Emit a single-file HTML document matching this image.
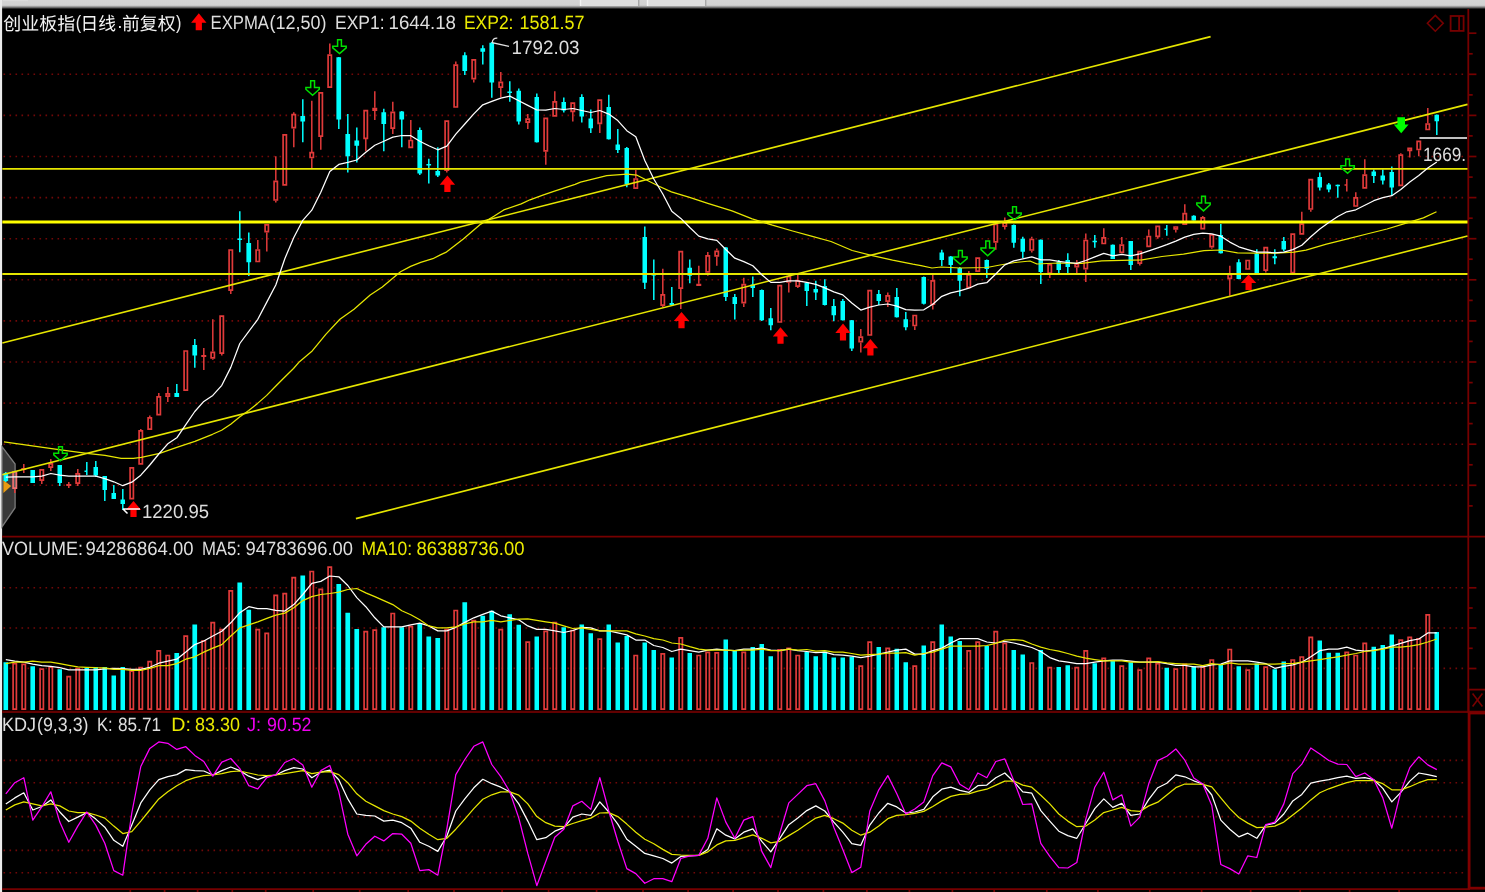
<!DOCTYPE html>
<html><head><meta charset="utf-8"><title>创业板指(日线.前复权) EXPMA VOLUME KDJ</title>
<style>html,body{margin:0;padding:0;background:#000;width:1485px;height:892px;overflow:hidden;font-family:"Liberation Sans",sans-serif}</style>
</head><body>
<svg width="1485" height="892" viewBox="0 0 1485 892" style="display:block;position:absolute;left:0;top:0;filter:blur(0.35px)" font-family="Liberation Sans, sans-serif" font-size="19.2" text-rendering="geometricPrecision">
<defs><linearGradient id="tb" x1="0" y1="0" x2="0" y2="1"><stop offset="0" stop-color="#d4d4d4"/><stop offset="0.55" stop-color="#d2d2d2"/><stop offset="0.75" stop-color="#808080"/><stop offset="0.95" stop-color="#000"/></linearGradient></defs>
<rect width="1485" height="892" fill="#000"/>
<rect x="0" y="0" width="1485" height="9.6" fill="url(#tb)"/>
<rect x="3" y="0" width="25" height="1.2" fill="#dcdcdc"/>
<rect x="581" y="0" width="57.5" height="6" fill="#dfdfdf"/><rect x="579.8" y="0" width="1.4" height="6" fill="#f4f4f4"/><rect x="638" y="0" width="1.4" height="6" fill="#a8a8a8"/>
<rect x="648" y="0" width="57.5" height="6" fill="#dfdfdf"/><rect x="646.8" y="0" width="1.4" height="6" fill="#f4f4f4"/><rect x="705" y="0" width="1.4" height="6" fill="#a8a8a8"/>
<rect x="0" y="0" width="2.1" height="892" fill="#ebebeb"/>
<line x1="3.5" y1="74.3" x2="1466" y2="74.3" stroke="#720808" stroke-width="1.6" stroke-dasharray="1.6 4.4"/>
<line x1="3.5" y1="115.4" x2="1466" y2="115.4" stroke="#720808" stroke-width="1.6" stroke-dasharray="1.6 4.4"/>
<line x1="3.5" y1="156.5" x2="1466" y2="156.5" stroke="#720808" stroke-width="1.6" stroke-dasharray="1.6 4.4"/>
<line x1="3.5" y1="197.6" x2="1466" y2="197.6" stroke="#720808" stroke-width="1.6" stroke-dasharray="1.6 4.4"/>
<line x1="3.5" y1="238.7" x2="1466" y2="238.7" stroke="#720808" stroke-width="1.6" stroke-dasharray="1.6 4.4"/>
<line x1="3.5" y1="279.8" x2="1466" y2="279.8" stroke="#720808" stroke-width="1.6" stroke-dasharray="1.6 4.4"/>
<line x1="3.5" y1="320.9" x2="1466" y2="320.9" stroke="#720808" stroke-width="1.6" stroke-dasharray="1.6 4.4"/>
<line x1="3.5" y1="362" x2="1466" y2="362" stroke="#720808" stroke-width="1.6" stroke-dasharray="1.6 4.4"/>
<line x1="3.5" y1="403.1" x2="1466" y2="403.1" stroke="#720808" stroke-width="1.6" stroke-dasharray="1.6 4.4"/>
<line x1="3.5" y1="444.2" x2="1466" y2="444.2" stroke="#720808" stroke-width="1.6" stroke-dasharray="1.6 4.4"/>
<line x1="3.5" y1="485.3" x2="1466" y2="485.3" stroke="#720808" stroke-width="1.6" stroke-dasharray="1.6 4.4"/>
<line x1="3.5" y1="587.7" x2="1466" y2="587.7" stroke="#720808" stroke-width="1.6" stroke-dasharray="1.6 4.4"/>
<line x1="3.5" y1="628" x2="1466" y2="628" stroke="#720808" stroke-width="1.6" stroke-dasharray="1.6 4.4"/>
<line x1="3.5" y1="668.4" x2="1466" y2="668.4" stroke="#720808" stroke-width="1.6" stroke-dasharray="1.6 4.4"/>
<line x1="3.5" y1="760.4" x2="1466" y2="760.4" stroke="#720808" stroke-width="1.6" stroke-dasharray="1.6 4.4"/>
<line x1="3.5" y1="782.7" x2="1466" y2="782.7" stroke="#720808" stroke-width="1.6" stroke-dasharray="1.6 4.4"/>
<line x1="3.5" y1="816.6" x2="1466" y2="816.6" stroke="#720808" stroke-width="1.6" stroke-dasharray="1.6 4.4"/>
<line x1="3.5" y1="850.4" x2="1466" y2="850.4" stroke="#720808" stroke-width="1.6" stroke-dasharray="1.6 4.4"/>
<line x1="3.5" y1="872.7" x2="1466" y2="872.7" stroke="#720808" stroke-width="1.6" stroke-dasharray="1.6 4.4"/>
<g stroke="#760000" stroke-width="1.8" fill="none">
<line x1="2" y1="536.6" x2="1485" y2="536.6"/>
<line x1="2" y1="711.9" x2="1468" y2="711.9" stroke="#620000" stroke-width="2.1"/><line x1="1468" y1="712.4" x2="1485" y2="712.4" stroke-width="2.2"/>
<line x1="2" y1="889.2" x2="1470" y2="889.2"/>
<line x1="1468.3" y1="9" x2="1468.3" y2="712"/>
<rect x="1469.1" y="713" width="20" height="175.2" stroke-width="2.8" stroke="#800000"/>
<rect x="1468.6" y="689.6" width="20" height="22"/>
</g>
<g stroke="#760000" stroke-width="1.7">
<line x1="1469" y1="33.2" x2="1476.4" y2="33.2"/>
<line x1="1469" y1="53.8" x2="1472.7" y2="53.8"/>
<line x1="1469" y1="74.3" x2="1476.4" y2="74.3"/>
<line x1="1469" y1="94.9" x2="1472.7" y2="94.9"/>
<line x1="1469" y1="115.4" x2="1476.4" y2="115.4"/>
<line x1="1469" y1="135.9" x2="1472.7" y2="135.9"/>
<line x1="1469" y1="156.5" x2="1476.4" y2="156.5"/>
<line x1="1469" y1="177.1" x2="1472.7" y2="177.1"/>
<line x1="1469" y1="197.6" x2="1476.4" y2="197.6"/>
<line x1="1469" y1="218.2" x2="1472.7" y2="218.2"/>
<line x1="1469" y1="238.7" x2="1476.4" y2="238.7"/>
<line x1="1469" y1="259.2" x2="1472.7" y2="259.2"/>
<line x1="1469" y1="279.8" x2="1476.4" y2="279.8"/>
<line x1="1469" y1="300.4" x2="1472.7" y2="300.4"/>
<line x1="1469" y1="320.9" x2="1476.4" y2="320.9"/>
<line x1="1469" y1="341.4" x2="1472.7" y2="341.4"/>
<line x1="1469" y1="362" x2="1476.4" y2="362"/>
<line x1="1469" y1="382.6" x2="1472.7" y2="382.6"/>
<line x1="1469" y1="403.1" x2="1476.4" y2="403.1"/>
<line x1="1469" y1="423.6" x2="1472.7" y2="423.6"/>
<line x1="1469" y1="444.2" x2="1476.4" y2="444.2"/>
<line x1="1469" y1="464.8" x2="1472.7" y2="464.8"/>
<line x1="1469" y1="485.3" x2="1476.4" y2="485.3"/>
<line x1="1469" y1="505.9" x2="1472.7" y2="505.9"/>
<line x1="1469" y1="587.8" x2="1476.4" y2="587.8"/>
<line x1="1469" y1="608" x2="1472.7" y2="608"/>
<line x1="1469" y1="628" x2="1476.4" y2="628"/>
<line x1="1469" y1="648.3" x2="1472.7" y2="648.3"/>
<line x1="1469" y1="668.5" x2="1476.4" y2="668.5"/>
<line x1="130.3" y1="889" x2="130.3" y2="892"/>
<line x1="164.6" y1="889" x2="164.6" y2="892"/>
<line x1="197.6" y1="889" x2="197.6" y2="892"/>
<line x1="232.3" y1="889" x2="232.3" y2="892"/>
<line x1="265.7" y1="889" x2="265.7" y2="892"/>
<line x1="313.2" y1="889" x2="313.2" y2="892"/>
<line x1="359.7" y1="889" x2="359.7" y2="892"/>
<line x1="408.2" y1="889" x2="408.2" y2="892"/>
<line x1="454" y1="889" x2="454" y2="892"/>
<line x1="502.1" y1="889" x2="502.1" y2="892"/>
<line x1="548.6" y1="889" x2="548.6" y2="892"/>
<line x1="596.6" y1="889" x2="596.6" y2="892"/>
<line x1="643" y1="889" x2="643" y2="892"/>
<line x1="688.1" y1="889" x2="688.1" y2="892"/>
<line x1="733.1" y1="889" x2="733.1" y2="892"/>
<line x1="778" y1="889" x2="778" y2="892"/>
<line x1="823.4" y1="889" x2="823.4" y2="892"/>
<line x1="866.9" y1="889" x2="866.9" y2="892"/>
<line x1="909.4" y1="889" x2="909.4" y2="892"/>
<line x1="952.4" y1="889" x2="952.4" y2="892"/>
<line x1="994.2" y1="889" x2="994.2" y2="892"/>
<line x1="1046.8" y1="889" x2="1046.8" y2="892"/>
<line x1="1097.9" y1="889" x2="1097.9" y2="892"/>
<line x1="1149.8" y1="889" x2="1149.8" y2="892"/>
<line x1="1201.6" y1="889" x2="1201.6" y2="892"/>
<line x1="1250.7" y1="889" x2="1250.7" y2="892"/>
<line x1="1300.2" y1="889" x2="1300.2" y2="892"/>
<line x1="1349.6" y1="889" x2="1349.6" y2="892"/>
<line x1="1399.1" y1="889" x2="1399.1" y2="892"/>
</g>
<path d="M1472.6 693.6 L1482.4 706.4 M1482.4 693.6 L1472.6 706.4" stroke="#760000" stroke-width="1.6" fill="none"/>
<path d="M1435.3 15.4 L1443.2 23.3 L1435.3 31.2 L1427.4 23.3 Z" stroke="#760000" stroke-width="1.6" fill="none"/>
<rect x="1450.6" y="16" width="13" height="14.9" stroke="#760000" stroke-width="1.8" fill="none"/><line x1="1459.1" y1="16" x2="1459.1" y2="31" stroke="#760000" stroke-width="1.8"/>
<path d="M2 446.6 L15.1 464 V507.7 L2 526.8 Z" fill="#383838" stroke="#7a7a7a" stroke-width="1.3"/>
<path d="M3.4 480.3 L11.2 486 L3.4 493 Z" fill="#e89a10"/>
<path d="M14.8 489V493M23.8 464V468M23.8 470V473M41.8 481V484M50.8 459V463M50.8 468V471M68.8 482V484M68.8 486V488M77.8 469V473M77.8 484V486M140.8 429V430M149.8 415.5V417M158.8 393V396M167.8 387V393M167.8 397V402M203.8 348V355M203.8 357V370M212.8 319.3V351.6M212.8 358.7V359.7M221.8 354V355.6M230.8 291V294M257.8 240.1V249.2M266.8 232.4V251.6M275.8 156.3V180.6M275.8 200.8V202.4M293.8 112.3V113.9M293.8 128.4V147.2M311.8 100.8V151.9M311.8 158.3V168.8M320.8 137V149.8M329.8 43.6V54.3M365.8 139.1V151.3M374.8 91.3V107.8M374.8 110.9V120M392.8 101.8V111.5M392.8 129V134M410.8 120V139.7M446.8 170.9V172.5M455.8 61.4V64.4M473.8 79.5V82.6M500.8 71.9V81.6M500.8 88V97.3M527.8 113.9V118.3M527.8 123V129M545.8 151.6V164.7M554.8 91.3V101M572.8 112.1V121.6M599.8 124.2V133.1M635.8 170.1V178.2M662.8 268.7V294M662.8 306V307M680.8 288.9V309.1M698.8 265.7V283.8M707.8 252.1V255M707.8 272.7V275.8M716.8 248.5V250.5M716.8 256.6V265.7M743.8 277.8V283.8M743.8 303.4V307.1M788.8 274.5V275.8M788.8 282.8V292.5M797.8 274.7V280.4M797.8 286.9V288M860.8 328.9V336.4M860.8 342.4V352.5M887.8 292.5V295M887.8 302V307.1M914.8 326.3V329.9M932.8 274V280.1M932.8 305V309.4M968.8 271V274M995.8 242.7V249.8M1004.8 217.5V222.1M1004.8 227V229.6M1031.8 236.7V238.7M1031.8 250.8V252.4M1049.8 274V278.1M1076.8 259.9V263.3M1076.8 267.4V273M1085.8 233.6V239.7M1085.8 269.4V282.1M1103.8 228.2V237.1M1121.8 237.1V244.3M1139.8 263.9V265.4M1148.8 229.6V235.7M1157.8 237.1V238.7M1175.8 229.6V232.6M1184.8 204.3V212.8M1202.8 215.9V217.1M1211.8 247.5V248.8M1229.8 265.8V273.8M1229.8 279.1V295.7M1265.8 271V272.4M1301.8 211.8V223.3M1310.8 209.8V211.8M1346.8 178.9V191.6M1344.5 185H1347.5M1355.8 192.2V197.1M1364.8 159.3V174.4M1400.8 153.2V154.4M1409.8 151.1V157.4M1418.8 150.3V156.2M1427.8 108.1V123.2" stroke="#e03a3a" stroke-width="1.5" fill="none"/>
<path d="M22.1 468.8H25.4V469.2H22.1ZM40.1 469.8H43.4V480.2H40.1ZM49.1 463.8H52.4V467.2H49.1ZM67.1 484.8H70.4V485.2H67.1ZM76.1 473.8H79.4V483.2H76.1ZM130.1 467.8H133.4V498.7H130.1ZM139.1 430.8H142.4V463.8H139.1ZM148.1 417.8H151.4V429.2H148.1ZM157.1 396.8H160.4V414.7H157.1ZM166.1 393.8H169.4V396.2H166.1ZM184.1 351H187.4V390.2H184.1ZM202.1 355.8H205.4V356.2H202.1ZM211.1 352.4H214.4V357.9H211.1ZM220.1 316.1H223.4V353.2H220.1ZM229.1 250H232.4V290.2H229.1ZM256.1 250H259.4V261.5H256.1ZM265.1 224.8H268.4V231.6H265.1ZM274.1 181.4H277.4V200H274.1ZM283.1 134.9H286.4V184.8H283.1ZM292.1 114.7H295.4V127.6H292.1ZM310.1 152.7H313.4V157.5H310.1ZM319.1 92.8H322.4V136.2H319.1ZM328.1 55.1H331.4V87.2H328.1ZM364.1 110.6H367.4V138.3H364.1ZM373.1 108.6H376.4V110.1H373.1ZM391.1 112.3H394.4V128.2H391.1ZM409.1 140.5H412.4V147.4H409.1ZM445.1 121.2H448.4V170.1H445.1ZM454.1 65.2H457.4V107H454.1ZM472.1 59.8H475.4V78.7H472.1ZM499.1 82.4H502.4V87.2H499.1ZM526.1 119.1H529.4V122.2H526.1ZM544.1 118.3H547.4V150.8H544.1ZM553.1 101.8H556.4V115.8H553.1ZM571.1 103.2H574.4V111.3H571.1ZM598.1 100.2H601.4V123.4H598.1ZM634.1 179H637.4V188.1H634.1ZM661.1 294.8H664.4V305.2H661.1ZM679.1 251.7H682.4V288.1H679.1ZM697.1 284.6H700.4V285.1H697.1ZM706.1 255.8H709.4V271.9H706.1ZM715.1 251.3H718.4V255.8H715.1ZM742.1 284.6H745.4V302.6H742.1ZM778.1 285.6H781.4V322H778.1ZM787.1 276.6H790.4V282H787.1ZM796.1 281.2H799.4V286.1H796.1ZM859.1 337.2H862.4V341.6H859.1ZM868.1 290.7H871.4V335H868.1ZM886.1 295.8H889.4V301.2H886.1ZM913.1 315.5H916.4V325.5H913.1ZM931.1 280.9H934.4V304.2H931.1ZM967.1 274.8H970.4V287.4H967.1ZM976.1 258.1H979.4V271.2H976.1ZM994.1 224.3H997.4V241.9H994.1ZM1003.1 222.9H1006.4V226.2H1003.1ZM1030.1 239.5H1033.4V250H1030.1ZM1048.1 264.7H1051.4V273.2H1048.1ZM1075.1 264.1H1078.4V266.6H1075.1ZM1084.1 240.5H1087.4V268.6H1084.1ZM1102.1 237.9H1105.4V243.5H1102.1ZM1120.1 245.1H1123.4V252.4H1120.1ZM1138.1 251.6H1141.4V263.1H1138.1ZM1147.1 236.5H1150.4V246.4H1147.1ZM1156.1 226.4H1159.4V236.3H1156.1ZM1174.1 227H1177.4V228.8H1174.1ZM1183.1 213.6H1186.4V224.2H1183.1ZM1201.1 217.9H1204.4V228.7H1201.1ZM1210.1 234.9H1213.4V246.7H1210.1ZM1228.1 274.6H1231.4V278.3H1228.1ZM1246.1 260.5H1249.4V269H1246.1ZM1264.1 247.6H1267.4V270.2H1264.1ZM1291.1 234.2H1294.4V272.6H1291.1ZM1300.1 224.1H1303.4V233.8H1300.1ZM1309.1 179.7H1312.4V209H1309.1ZM1354.1 197.9H1357.4V206H1354.1ZM1363.1 175.2H1366.4V187.8H1363.1ZM1399.1 155.2H1402.4V185.4H1399.1ZM1408.1 148.4H1411.4V150.3H1408.1ZM1417.1 141.3H1420.4V149.5H1417.1ZM1426.1 124H1429.4V129.5H1426.1Z" stroke="#e03a3a" stroke-width="1.7" fill="#000"/>
<path d="M13.1 471.8H16.4V488.2H13.1Z" stroke="#f07070" stroke-width="1.7" fill="none"/>
<path d="M5.8 472V482M32.8 470V483M59.8 465V486M86.8 462V475M84.5 471.2H87.5M95.8 461V477M104.8 476V501M113.8 485V499M122.8 489V510M176.8 384V397M194.8 339V367.8M239.8 211.2V252.2M237.4 239.2H242.1M248.8 232.4V275.9M302.8 99.3V142.2M338.8 57V129M347.8 113.9V172.5M356.8 127.6V162.4M383.8 108.8V151.3M401.8 111V147.2M419.8 127.6V175M428.8 158.7V183.6M426.4 164.8H431.1M437.8 147.2V177M464.8 52.3V75.1M482.8 45.2V64.4M491.8 42V97.7M509.8 81.2V101.8M507.4 92.2H512M518.8 88.6V124.4M536.8 93.5V142.5M563.8 97.4V112.5M581.8 94.3V122.6M590.8 109.5V133.1M608.8 94.7V139.5M617.8 129.1V152.9M626.8 147V187.3M644.8 226.5V288.9M653.8 259.6V300M651.5 274.8H656M671.8 286.9V305M689.8 259.6V283.2M725.8 247V301M734.8 293.9V319.6M752.8 276.4V297M761.8 289.5V321M770.8 308.1V330.3M806.8 282.5V306.1M815.8 280.8V300M824.8 279.2V305.5M833.8 299V321.2M842.8 299V320.5M851.8 320V351.1M878.8 289.9V305M896.8 287.9V317.5M905.8 312.1V330.3M923.8 276.5V304.5M941.8 249.8V266M950.8 256V273.4M959.8 267V296.3M986.8 259.5V278.1M1013.8 224.5V247.8M1022.8 236.7V257.9M1040.8 239.5V284.1M1058.8 259.9V273M1067.8 253.2V273M1094.8 235V247.8M1112.8 244.5V259M1130.8 241V270M1166.8 225V235.7M1164.5 229.2H1167.5M1193.8 215.2V220.6M1220.8 223.9V253.5M1238.8 259.3V279.3M1256.8 249.2V273.6M1274.8 249.2V264.3M1283.8 237.1V251.2M1319.8 172.4V190.6M1328.8 182.9V192.2M1337.8 184.5V197.7M1335.5 185.6H1340M1373.8 169.4V182.9M1382.8 169.4V184.5M1391.8 166.4V195.1M1436.8 114.5V135" stroke="#00ffff" stroke-width="1.5" fill="none"/>
<path d="M3.5 473H8.1V481H3.5ZM30.4 470H35V483H30.4ZM57.5 465H62V483H57.5ZM93.5 467H98V475.5H93.5ZM102.5 476H107V490H102.5ZM111.5 493H116V499H111.5ZM120.5 499.5H125V504H120.5ZM174.4 393H179.1V397H174.4ZM192.4 345H197.1V355.6H192.4ZM246.4 243H251.1V262.3H246.4ZM300.4 115.9H305.1V121.6H300.4ZM336.4 57.3H341.1V119.5H336.4ZM345.4 134H350.1V156.3H345.4ZM354.4 140.5H359.1V145.8H354.4ZM381.4 112.3H386.1V124H381.4ZM399.4 111.5H404.1V119.5H399.4ZM417.4 130H422.1V173.5H417.4ZM435.4 170.9H440.1V175.5H435.4ZM462.4 55.3H467.1V71H462.4ZM480.4 48.2H485.1V51.7H480.4ZM489.4 42.8H494.1V82.6H489.4ZM516.5 90.7H521V121.6H516.5ZM534.5 97H539V142.3H534.5ZM561.5 102H566V110.5H561.5ZM579.5 97H584V116.6H579.5ZM588.5 118.6H593V128.3H588.5ZM606.5 106.9H611V139.2H606.5ZM615.5 144.4H620V149.9H615.5ZM624.5 147.9H629V184.2H624.5ZM642.5 237H647V282.8H642.5ZM669.5 303H674V305H669.5ZM687.5 267.7H692V275.8H687.5ZM723.5 247.5H728V297H723.5ZM732.5 297H737V304H732.5ZM750.5 284.4H755V287.9H750.5ZM759.5 289.9H764V320.2H759.5ZM768.5 318.2H773V325.3H768.5ZM804.5 282.8H809V290.9H804.5ZM813.5 288.9H818V292.5H813.5ZM822.5 285.9H827V305H822.5ZM831.5 306H836V315.2H831.5ZM840.5 301H845V320.2H840.5ZM849.5 320.2H854V348.5H849.5ZM876.5 293.9H881V301H876.5ZM894.5 297H899V317.2H894.5ZM903.5 319.2H908V327.3H903.5ZM921.5 276.9H926V303.8H921.5ZM939.5 252.4H944V259.9H939.5ZM948.5 256.5H953V265H948.5ZM957.5 268H962V280.7H957.5ZM984.5 259.9H989V269H984.5ZM1011.5 225H1016V242.7H1011.5ZM1020.5 238.7H1025V251.8H1020.5ZM1038.5 239.7H1043V272H1038.5ZM1056.5 261.9H1061V270H1056.5ZM1065.5 259.9H1070V267H1065.5ZM1092.5 240.7H1097V242.3H1092.5ZM1110.5 244.7H1115V258.9H1110.5ZM1128.5 241.1H1133V264.9H1128.5ZM1191.5 215.7H1196V220.4H1191.5ZM1218.5 235H1223V253.2H1218.5ZM1236.5 262.3H1241V279.1H1236.5ZM1254.5 253.6H1259V273.4H1254.5ZM1272.5 256.3H1277V258.3H1272.5ZM1281.5 241.1H1286V249.6H1281.5ZM1317.5 176.9H1322V187.6H1317.5ZM1326.5 184.5H1331V189.6H1326.5ZM1371.5 171.4H1376V176.1H1371.5ZM1380.5 175.5H1385V180.5H1380.5ZM1389.5 172H1394V187.6H1389.5ZM1434.5 114.7H1439V121.2H1434.5Z" fill="#00ffff"/>
<path d="M13.1 663.6H16.4V709.2H13.1ZM22.1 664.4H25.4V709.2H22.1ZM40.1 669.1H43.4V709.2H40.1ZM49.1 667.1H52.4V709.2H49.1ZM67.1 676.6H70.4V709.2H67.1ZM76.1 668.5H79.4V709.2H76.1ZM130.1 671.1H133.4V709.2H130.1ZM139.1 667.7H142.4V709.2H139.1ZM148.1 661.6H151.4V709.2H148.1ZM157.1 650.9H160.4V709.2H157.1ZM166.1 655.5H169.4V709.2H166.1ZM184.1 636.2H187.4V709.2H184.1ZM202.1 640.8H205.4V709.2H202.1ZM211.1 622.6H214.4V709.2H211.1ZM220.1 629.7H223.4V709.2H220.1ZM229.1 590.9H232.4V709.2H229.1ZM256.1 629.7H259.4V709.2H256.1ZM265.1 633.3H268.4V709.2H265.1ZM274.1 595.3H277.4V709.2H274.1ZM283.1 593.7H286.4V709.2H283.1ZM292.1 577.6H295.4V709.2H292.1ZM310.1 571.5H313.4V709.2H310.1ZM319.1 589.3H322.4V709.2H319.1ZM328.1 567.1H331.4V709.2H328.1ZM364.1 631.7H367.4V709.2H364.1ZM373.1 630.1H376.4V709.2H373.1ZM391.1 613.5H394.4V709.2H391.1ZM409.1 626.7H412.4V709.2H409.1ZM445.1 629.7H448.4V709.2H445.1ZM454.1 610.5H457.4V709.2H454.1ZM472.1 620.6H475.4V709.2H472.1ZM499.1 629.7H502.4V709.2H499.1ZM526.1 642.2H529.4V709.2H526.1ZM544.1 631.3H547.4V709.2H544.1ZM553.1 622.6H556.4V709.2H553.1ZM571.1 630.7H574.4V709.2H571.1ZM598.1 639.2H601.4V709.2H598.1ZM634.1 655.5H637.4V709.2H634.1ZM661.1 653.9H664.4V709.2H661.1ZM679.1 637.8H682.4V709.2H679.1ZM697.1 655.5H700.4V709.2H697.1ZM706.1 652.3H709.4V709.2H706.1ZM715.1 652.9H718.4V709.2H715.1ZM742.1 652.3H745.4V709.2H742.1ZM778.1 649.9H781.4V709.2H778.1ZM787.1 648.3H790.4V709.2H787.1ZM796.1 655.5H799.4V709.2H796.1ZM859.1 666.1H862.4V709.2H859.1ZM868.1 642.2H871.4V709.2H868.1ZM886.1 648.3H889.4V709.2H886.1ZM913.1 666.1H916.4V709.2H913.1ZM931.1 642.2H934.4V709.2H931.1ZM967.1 650.9H970.4V709.2H967.1ZM976.1 642.2H979.4V709.2H976.1ZM994.1 631.7H997.4V709.2H994.1ZM1003.1 643.4H1006.4V709.2H1003.1ZM1030.1 663H1033.4V709.2H1030.1ZM1048.1 667.7H1051.4V709.2H1048.1ZM1075.1 667.7H1078.4V709.2H1075.1ZM1084.1 650.9H1087.4V709.2H1084.1ZM1102.1 658.4H1105.4V709.2H1102.1ZM1120.1 666.1H1123.4V709.2H1120.1ZM1138.1 670.1H1141.4V709.2H1138.1ZM1147.1 658.4H1150.4V709.2H1147.1ZM1156.1 663.6H1159.4V709.2H1156.1ZM1174.1 669.1H1177.4V709.2H1174.1ZM1183.1 664.4H1186.4V709.2H1183.1ZM1201.1 667.1H1204.4V709.2H1201.1ZM1210.1 660H1213.4V709.2H1210.1ZM1228.1 649.5H1231.4V709.2H1228.1ZM1246.1 670.1H1249.4V709.2H1246.1ZM1264.1 667.1H1267.4V709.2H1264.1ZM1291.1 660H1294.4V709.2H1291.1ZM1300.1 657H1303.4V709.2H1300.1ZM1309.1 637.4H1312.4V709.2H1309.1ZM1345.1 652.3H1348.4V709.2H1345.1ZM1354.1 655.5H1357.4V709.2H1354.1ZM1363.1 643.4H1366.4V709.2H1363.1ZM1399.1 640.2H1402.4V709.2H1399.1ZM1408.1 637.4H1411.4V709.2H1408.1ZM1417.1 638.8H1420.4V709.2H1417.1ZM1426.1 614.9H1429.4V709.2H1426.1Z" stroke="#e03a3a" stroke-width="1.7" fill="none"/>
<path d="M3.5 662.2H8.1V710H3.5ZM30.4 666.3H35V710H30.4ZM57.5 669.3H62V710H57.5ZM84.5 667.7H89V710H84.5ZM93.5 666.9H98V710H93.5ZM102.5 666.9H107V710H102.5ZM111.5 675.4H116V710H111.5ZM120.5 666.9H125V710H120.5ZM174.4 653.1H179.1V710H174.4ZM192.4 624.4H197.1V710H192.4ZM237.4 582.4H242.1V710H237.4ZM246.4 609.7H251.1V710H246.4ZM300.4 575.4H305.1V710H300.4ZM336.4 584H341.1V710H336.4ZM345.4 612.7H350.1V710H345.4ZM354.4 628.9H359.1V710H354.4ZM381.4 627.3H386.1V710H381.4ZM399.4 627.3H404.1V710H399.4ZM417.4 623.8H422.1V710H417.4ZM426.4 636.6H431.1V710H426.4ZM435.4 638H440.1V710H435.4ZM462.4 602.2H467.1V710H462.4ZM480.4 615.8H485.1V710H480.4ZM489.4 610.7H494.1V710H489.4ZM507.4 614.3H512V710H507.4ZM516.5 624.8H521V710H516.5ZM534.5 636.6H539V710H534.5ZM561.5 627.3H566V710H561.5ZM579.5 624.4H584V710H579.5ZM588.5 633.3H593V710H588.5ZM606.5 624.4H611V710H606.5ZM615.5 642.6H620V710H615.5ZM624.5 636H629V710H624.5ZM642.5 642.6H647V710H642.5ZM651.5 650.1H656V710H651.5ZM669.5 657.6H674V710H669.5ZM687.5 653.1H692V710H687.5ZM723.5 639.4H728V710H723.5ZM732.5 651.1H737V710H732.5ZM750.5 647.1H755V710H750.5ZM759.5 644H764V710H759.5ZM768.5 656.2H773V710H768.5ZM804.5 652.1H809V710H804.5ZM813.5 656.2H818V710H813.5ZM822.5 651.5H827V710H822.5ZM831.5 657.6H836V710H831.5ZM840.5 657.6H845V710H840.5ZM849.5 656.8H854V710H849.5ZM876.5 647.1H881V710H876.5ZM894.5 648.7H899V710H894.5ZM903.5 662.2H908V710H903.5ZM921.5 645.5H926V710H921.5ZM939.5 624.4H944V710H939.5ZM948.5 636.6H953V710H948.5ZM957.5 641H962V710H957.5ZM984.5 646.1H989V710H984.5ZM1011.5 650.1H1016V710H1011.5ZM1020.5 654.5H1025V710H1020.5ZM1038.5 650.1H1043V710H1038.5ZM1056.5 666.9H1061V710H1056.5ZM1065.5 665.3H1070V710H1065.5ZM1092.5 663.2H1097V710H1092.5ZM1110.5 660.8H1115V710H1110.5ZM1128.5 662.2H1133V710H1128.5ZM1164.5 667.7H1169V710H1164.5ZM1191.5 666.3H1196V710H1191.5ZM1218.5 664.8H1223V710H1218.5ZM1236.5 666.3H1241V710H1236.5ZM1254.5 663.6H1259V710H1254.5ZM1272.5 669.3H1277V710H1272.5ZM1281.5 661.6H1286V710H1281.5ZM1317.5 640.6H1322V710H1317.5ZM1326.5 652.7H1331V710H1326.5ZM1335.5 652.7H1340V710H1335.5ZM1371.5 646.7H1376V710H1371.5ZM1380.5 645H1385V710H1380.5ZM1389.5 634.5H1394V710H1389.5ZM1434.5 631.9H1439V710H1434.5Z" fill="#00ffff"/>
<g stroke="#e6e600" fill="none">
<line x1="2.3" y1="168.9" x2="1467.5" y2="168.9" stroke-width="1.8"/>
<line x1="2.3" y1="222" x2="1467.5" y2="222" stroke-width="3.2" stroke="#ffff00"/>
<line x1="2.3" y1="274" x2="1467.5" y2="274" stroke-width="1.8"/>
<line x1="2.3" y1="343" x2="1210.6" y2="36.6" stroke-width="1.6"/>
<line x1="2.3" y1="474.8" x2="1467.5" y2="104.4" stroke-width="1.6"/>
<line x1="355.9" y1="518.6" x2="1467.5" y2="236" stroke-width="1.6"/>
</g>
<path d="M5.8 659.6 L14.8 661.2 L23.8 662.2 L32.8 664.2 L41.8 665.7 L50.8 666.3 L59.8 667.7 L68.8 669.9 L77.8 669.9 L86.8 669.9 L95.8 669.9 L104.8 668.9 L113.8 668.3 L122.8 668.7 L131.8 669.3 L140.8 669.3 L149.8 667.3 L158.8 663.2 L167.8 661.2 L176.8 659.2 L185.8 652.1 L194.8 644.6 L203.8 641 L212.8 636 L221.8 631.3 L230.8 622.8 L239.8 612.7 L248.8 606.7 L257.8 608.7 L266.8 608.7 L275.8 610.3 L284.8 611.1 L293.8 604.6 L302.8 594.5 L311.8 583.4 L320.8 581.4 L329.8 576 L338.8 576.8 L347.8 585.5 L356.8 597.6 L365.8 606.7 L374.8 617.8 L383.8 626.9 L392.8 626.9 L401.8 626.9 L410.8 624.8 L419.8 623.2 L428.8 625.9 L437.8 630.9 L446.8 630.9 L455.8 627.3 L464.8 622.4 L473.8 617.8 L482.8 614.3 L491.8 611.1 L500.8 615.8 L509.8 617.8 L518.8 619.8 L527.8 625.9 L536.8 629.3 L545.8 629.3 L554.8 630.9 L563.8 632.5 L572.8 630.5 L581.8 627.3 L590.8 627.9 L599.8 630.9 L608.8 630.9 L617.8 632.9 L626.8 634.9 L635.8 640 L644.8 640 L653.8 645.5 L662.8 647.5 L671.8 651.5 L680.8 649.1 L689.8 650.7 L698.8 652.1 L707.8 650.1 L716.8 649.1 L725.8 650.1 L734.8 650.7 L743.8 649.1 L752.8 649.1 L761.8 648.1 L770.8 650.1 L779.8 650.7 L788.8 649.1 L797.8 650.7 L806.8 651.5 L815.8 652.7 L824.8 652.1 L833.8 654.7 L842.8 655.2 L851.8 656.2 L860.8 657.6 L869.8 656.2 L878.8 654.1 L887.8 652.1 L896.8 650.1 L905.8 649.1 L914.8 654.1 L923.8 654.1 L932.8 650.7 L941.8 648.1 L950.8 643 L959.8 638.6 L968.8 638.6 L977.8 638.6 L986.8 642 L995.8 643 L1004.8 641.4 L1013.8 643 L1022.8 645.1 L1031.8 647.5 L1040.8 651.5 L1049.8 657.6 L1058.8 660.8 L1067.8 662.2 L1076.8 663.6 L1085.8 663.6 L1094.8 662.2 L1103.8 660.8 L1112.8 660.2 L1121.8 660.2 L1130.8 661.2 L1139.8 662.2 L1148.8 662.2 L1157.8 662.2 L1166.8 663.6 L1175.8 665.3 L1184.8 665.3 L1193.8 666.9 L1202.8 666.9 L1211.8 664.8 L1220.8 664.2 L1229.8 660.8 L1238.8 660.8 L1247.8 660.8 L1256.8 662.2 L1265.8 663.6 L1274.8 668.3 L1283.8 666.3 L1292.8 664.8 L1301.8 662.2 L1310.8 656.8 L1319.8 650.7 L1328.8 649.1 L1337.8 649.1 L1346.8 647.1 L1355.8 650.1 L1364.8 651.1 L1373.8 650.1 L1382.8 648.7 L1391.8 646.1 L1400.8 643.4 L1409.8 640.6 L1418.8 639 L1427.8 632.9 L1436.8 632.9" stroke="#ffffff" stroke-width="1.25" fill="none" stroke-linejoin="round"/>
<path d="M5.8 663.6 L14.8 662.2 L23.8 662.2 L32.8 661.2 L41.8 662.2 L50.8 662.2 L59.8 663.6 L68.8 665.3 L77.8 666.9 L86.8 667.3 L95.8 667.7 L104.8 667.9 L113.8 669.3 L122.8 669.3 L131.8 670.3 L140.8 670.3 L149.8 668.3 L158.8 665.7 L167.8 665.7 L176.8 663.6 L185.8 659.2 L194.8 656.8 L203.8 652.1 L212.8 648.1 L221.8 644.6 L230.8 636 L239.8 627.9 L248.8 624.8 L257.8 621.8 L266.8 618.4 L275.8 615.2 L284.8 613.1 L293.8 607.7 L302.8 600.6 L311.8 596.6 L320.8 594.5 L329.8 593.5 L338.8 592.1 L347.8 589.5 L356.8 588.5 L365.8 592.9 L374.8 596.6 L383.8 600.6 L392.8 604.6 L401.8 610.7 L410.8 614.7 L419.8 619.8 L428.8 625.9 L437.8 627.9 L446.8 627.9 L455.8 626.9 L464.8 623.8 L473.8 621.8 L482.8 621.8 L491.8 620.4 L500.8 621.8 L509.8 620.4 L518.8 619.2 L527.8 618.8 L536.8 620.4 L545.8 621.8 L554.8 623.2 L563.8 625.9 L572.8 628.5 L581.8 627.9 L590.8 629.3 L599.8 630.9 L608.8 630.9 L617.8 630.9 L626.8 630.9 L635.8 633.9 L644.8 636 L653.8 638.6 L662.8 640 L671.8 643 L680.8 644 L689.8 646.7 L698.8 649.1 L707.8 650.1 L716.8 650.1 L725.8 650.1 L734.8 650.7 L743.8 650.1 L752.8 650.1 L761.8 649.1 L770.8 650.7 L779.8 650.7 L788.8 649.1 L797.8 650.1 L806.8 649.5 L815.8 651.1 L824.8 650.7 L833.8 652.1 L842.8 652.1 L851.8 653.5 L860.8 655.2 L869.8 654.7 L878.8 654.1 L887.8 653.1 L896.8 653.1 L905.8 652.7 L914.8 655.2 L923.8 653.5 L932.8 652.1 L941.8 649.1 L950.8 646.1 L959.8 646.1 L968.8 646.1 L977.8 646.1 L986.8 645.5 L995.8 643.4 L1004.8 640 L1013.8 639.6 L1022.8 640.4 L1031.8 644 L1040.8 647.1 L1049.8 649.5 L1058.8 651.1 L1067.8 653.5 L1076.8 656.2 L1085.8 658.2 L1094.8 659.6 L1103.8 660.8 L1112.8 660.8 L1121.8 660.8 L1130.8 662.2 L1139.8 662.2 L1148.8 662.2 L1157.8 661.6 L1166.8 662.8 L1175.8 663.6 L1184.8 664.2 L1193.8 664.2 L1202.8 665.7 L1211.8 663.6 L1220.8 664.8 L1229.8 662.8 L1238.8 664.2 L1247.8 664.2 L1256.8 664.2 L1265.8 664.2 L1274.8 664.2 L1283.8 663.6 L1292.8 663.6 L1301.8 662.2 L1310.8 660.8 L1319.8 659.6 L1328.8 658.2 L1337.8 656.8 L1346.8 655.2 L1355.8 653.5 L1364.8 651.5 L1373.8 650.7 L1382.8 649.1 L1391.8 647.1 L1400.8 647.1 L1409.8 646.1 L1418.8 644.6 L1427.8 642 L1436.8 639" stroke="#e6e600" stroke-width="1.25" fill="none" stroke-linejoin="round"/>
<path d="M4 441.8 L60.6 449.9 L86.9 453.3 L105 455.4 L121.2 458.4 L133.3 458.4 L141.4 457.4 L159.6 453.3 L176.8 447.3 L194.9 441.4 L212.5 434.3 L221.6 430.3 L230.7 424.2 L239.6 417 L248.7 410.5 L257.6 403.4 L266.7 395.4 L275.6 386.3 L284.6 377.2 L293.5 368.5 L299.5 361.7 L311.6 351.6 L325.8 334.4 L339.9 319.3 L354 309.2 L370.2 295 L382.3 287 L400.5 271.8 L410.6 266.4 L420.7 262.3 L432.8 258.7 L440.9 254.6 L445.8 252.4 L463.3 238.9 L480.8 224.1 L494.3 216 L503.7 209.9 L521.2 203.9 L530 199.8 L542.8 195.2 L554.5 191.1 L575.1 184.3 L580.5 182.2 L606.8 175.6 L627 174.1 L637 175.2 L647 180.2 L659 186.3 L671.4 191.9 L689.6 197.4 L707.8 203.4 L732 210.9 L752.2 218.8 L772.4 225.2 L792.6 231 L812.3 236.4 L831 241.5 L852.2 250.5 L872.4 255.6 L892.6 260.2 L912.8 264.2 L921 265.6 L932 268 L941 267 L960 268 L987 267.5 L1000 265 L1015 262.5 L1030 261 L1037 264 L1058 263 L1081.6 263.3 L1101.8 260.9 L1142 259.9 L1162 256.5 L1183.5 254.2 L1204 250.6 L1221 250 L1237.5 252.8 L1255.7 253.2 L1276 253.2 L1294 252.2 L1306 250.2 L1326.4 244.1 L1346.6 239.1 L1366.8 234 L1387 229 L1407 222.9 L1423.4 217.9 L1436.5 211.8" stroke="#e6e600" stroke-width="1.25" fill="none" stroke-linejoin="round"/>
<path d="M5.8 477.2 L14.8 476.8 L23.8 476.8 L32.8 476.8 L41.8 476.2 L50.8 473.5 L59.8 475.2 L68.8 476.2 L77.8 476.2 L86.8 476.2 L95.8 476.2 L104.8 478.6 L113.8 481.8 L122.8 485.7 L131.8 482.2 L140.8 475.2 L149.8 465 L158.8 454 L167.8 443.8 L176.8 437.8 L185.8 424.6 L194.8 411.5 L203.8 401.4 L212.8 395.4 L221.8 385.3 L230.8 367.4 L239.8 343.5 L248.8 331.4 L257.8 319.3 L266.8 302.1 L275.8 285 L284.8 258.7 L293.8 237.5 L302.8 220.3 L311.8 210.2 L320.8 192.3 L329.8 171.5 L338.8 164.4 L347.8 162.4 L356.8 160 L365.8 152.3 L374.8 145.2 L383.8 141.2 L392.8 137.1 L401.8 135.5 L410.8 135.7 L419.8 141.2 L428.8 145.8 L437.8 149.8 L446.8 146.2 L455.8 134.1 L464.8 124 L473.8 113.9 L482.8 104.8 L491.8 101.4 L500.8 98.1 L509.8 96.1 L518.8 100.8 L527.8 105.4 L536.8 110 L545.8 110.1 L554.8 108.5 L563.8 109.5 L572.8 108.5 L581.8 110.5 L590.8 112.5 L599.8 110.5 L608.8 114.1 L617.8 120.6 L626.8 130.7 L635.8 136.8 L644.8 160.5 L653.8 179 L662.8 194 L671.8 211.3 L680.8 218.4 L689.8 227.5 L698.8 236.1 L707.8 238.8 L716.8 240.4 L725.8 249.5 L734.8 258.2 L743.8 261.6 L752.8 265.7 L761.8 274.7 L770.8 282.4 L779.8 282.4 L788.8 280.8 L797.8 280.8 L806.8 282.4 L815.8 284.4 L824.8 287.9 L833.8 291.9 L842.8 294.9 L851.8 303 L860.8 310.1 L869.8 307.1 L878.8 305 L887.8 304 L896.8 306.1 L905.8 309.7 L914.8 310.1 L923.8 309.8 L932.8 304.3 L941.8 296.3 L950.8 292.8 L959.8 290.8 L968.8 288.2 L977.8 284.1 L986.8 282.7 L995.8 274 L1004.8 264.9 L1013.8 260.9 L1022.8 258.9 L1031.8 256.9 L1040.8 259.9 L1049.8 259.9 L1058.8 261.3 L1067.8 262.5 L1076.8 263.3 L1085.8 260.5 L1094.8 256.9 L1103.8 253.4 L1112.8 255.9 L1121.8 254.4 L1130.8 255.9 L1139.8 253.8 L1148.8 250.8 L1157.8 247.8 L1166.8 244.7 L1175.8 241.1 L1184.8 237.1 L1193.8 234.4 L1202.8 233.2 L1211.8 233.8 L1220.8 236.2 L1229.8 242.1 L1238.8 246.8 L1247.8 249.6 L1256.8 252.2 L1265.8 252.2 L1274.8 252.8 L1283.8 252.2 L1292.8 249.6 L1301.8 245.2 L1310.8 236.7 L1319.8 229 L1328.8 222.5 L1337.8 216.5 L1346.8 211.8 L1355.8 209.8 L1364.8 205.2 L1373.8 200.7 L1382.8 197.7 L1391.8 195.7 L1400.8 189.6 L1409.8 182.1 L1418.8 175.5 L1427.8 168 L1436.8 161.9" stroke="#ffffff" stroke-width="1.25" fill="none" stroke-linejoin="round"/>
<path d="M5.8 803.9 L14.8 797.9 L23.8 792.8 L32.8 810 L41.8 806.5 L50.8 799.9 L59.8 812 L68.8 821.5 L77.8 817.1 L86.8 812.6 L95.8 819.1 L104.8 827.2 L113.8 840.3 L122.8 846.3 L131.8 825.1 L140.8 802.9 L149.8 789.8 L158.8 779.7 L167.8 776.6 L176.8 774.6 L185.8 769.6 L194.8 770.6 L203.8 771 L212.8 775 L221.8 770.6 L230.8 767 L239.8 770.6 L248.8 776.2 L257.8 779.7 L266.8 776.2 L275.8 775 L284.8 770.6 L293.8 767.6 L302.8 769 L311.8 777.7 L320.8 772.2 L329.8 770.2 L338.8 779.7 L347.8 798.9 L356.8 814 L365.8 815.4 L374.8 816 L383.8 821.1 L392.8 820.1 L401.8 822.7 L410.8 828.2 L419.8 842.3 L428.8 846.3 L437.8 851.4 L446.8 836.2 L455.8 811 L464.8 798.9 L473.8 787.8 L482.8 779.3 L491.8 783.7 L500.8 787.2 L509.8 791.8 L518.8 803.9 L527.8 821.1 L536.8 839.7 L545.8 837.7 L554.8 831.2 L563.8 827.6 L572.8 817.1 L581.8 814 L590.8 815.4 L599.8 801.9 L608.8 812 L617.8 824.1 L626.8 839.3 L635.8 846.3 L644.8 853.4 L653.8 855.8 L662.8 858.5 L671.8 863.1 L680.8 856.4 L689.8 855.8 L698.8 855.4 L707.8 849.4 L716.8 828.8 L725.8 835.2 L734.8 838.9 L743.8 832.2 L752.8 828.8 L761.8 841.3 L770.8 851.8 L779.8 838.3 L788.8 824.7 L797.8 818.1 L806.8 810.6 L815.8 805.9 L824.8 811 L833.8 822.1 L842.8 832.2 L851.8 843.7 L860.8 845.3 L869.8 825.1 L878.8 813 L887.8 803.3 L896.8 806.9 L905.8 813 L914.8 812 L923.8 809.4 L932.8 796.8 L941.8 789.2 L950.8 787.2 L959.8 790.4 L968.8 792.4 L977.8 785.7 L986.8 785.1 L995.8 777.7 L1004.8 773 L1013.8 781.7 L1022.8 791.8 L1031.8 793.2 L1040.8 810.6 L1049.8 821.1 L1058.8 831.2 L1067.8 835.6 L1076.8 838.3 L1085.8 823.5 L1094.8 808.6 L1103.8 798.9 L1112.8 807.4 L1121.8 803.3 L1130.8 815.4 L1139.8 814 L1148.8 799.4 L1157.8 787.7 L1166.8 783.2 L1175.8 774.9 L1184.8 776.8 L1193.8 780.8 L1202.8 784 L1211.8 795 L1220.8 820.1 L1229.8 829.2 L1238.8 836.8 L1247.8 833.2 L1256.8 838.3 L1265.8 825.1 L1274.8 823.1 L1283.8 814 L1292.8 800.9 L1301.8 794.4 L1310.8 783.1 L1319.8 781.1 L1328.8 779.7 L1337.8 777.7 L1346.8 776.2 L1355.8 778.3 L1364.8 777.7 L1373.8 779.7 L1382.8 788.4 L1391.8 801.9 L1400.8 792.4 L1409.8 781.1 L1418.8 773 L1427.8 774.6 L1436.8 776.6" stroke="#ffffff" stroke-width="1.25" fill="none" stroke-linejoin="round"/>
<path d="M5.8 810 L14.8 804.9 L23.8 801.9 L32.8 803.9 L41.8 805.9 L50.8 803.9 L59.8 805.9 L68.8 811 L77.8 812.6 L86.8 812.6 L95.8 815 L104.8 818.1 L113.8 826.1 L122.8 833.6 L131.8 831.6 L140.8 821.1 L149.8 810 L158.8 798.9 L167.8 791.8 L176.8 785.7 L185.8 780.7 L194.8 777.7 L203.8 775.6 L212.8 775 L221.8 773.6 L230.8 771.6 L239.8 771 L248.8 773 L257.8 775 L266.8 775.6 L275.8 775 L284.8 773.6 L293.8 772.2 L302.8 770.6 L311.8 773.6 L320.8 772.2 L329.8 771.6 L338.8 774.6 L347.8 782.7 L356.8 793.8 L365.8 801.3 L374.8 805.9 L383.8 810.6 L392.8 814 L401.8 816.6 L410.8 821.1 L419.8 828.2 L428.8 834.2 L437.8 839.7 L446.8 838.3 L455.8 829.2 L464.8 819.1 L473.8 808.6 L482.8 799.3 L491.8 794.8 L500.8 791.8 L509.8 791.8 L518.8 795.2 L527.8 803.9 L536.8 816.6 L545.8 822.7 L554.8 826.1 L563.8 826.7 L572.8 823.5 L581.8 820.7 L590.8 818.1 L599.8 813 L608.8 812.6 L617.8 816.6 L626.8 824.1 L635.8 832.2 L644.8 839.3 L653.8 843.7 L662.8 849.4 L671.8 854.4 L680.8 855 L689.8 855.4 L698.8 855.4 L707.8 851.8 L716.8 844.9 L725.8 840.9 L734.8 840.3 L743.8 837.7 L752.8 834.8 L761.8 838.3 L770.8 842.9 L779.8 841.3 L788.8 835.6 L797.8 830.2 L806.8 824.1 L815.8 818.1 L824.8 815.4 L833.8 818.7 L842.8 823.1 L851.8 830.2 L860.8 835.2 L869.8 832.2 L878.8 826.1 L887.8 818.7 L896.8 815.4 L905.8 814.6 L914.8 813.4 L923.8 811.4 L932.8 806.5 L941.8 800.9 L950.8 796.4 L959.8 794.4 L968.8 793.8 L977.8 791.2 L986.8 789.2 L995.8 785.1 L1004.8 781.1 L1013.8 781.1 L1022.8 785.1 L1031.8 787.2 L1040.8 795.2 L1049.8 803.9 L1058.8 814 L1067.8 821.1 L1076.8 826.7 L1085.8 826.1 L1094.8 820.1 L1103.8 812.6 L1112.8 810 L1121.8 807.4 L1130.8 810.6 L1139.8 811.4 L1148.8 805.9 L1157.8 802.2 L1166.8 795 L1175.8 787.7 L1184.8 784 L1193.8 784 L1202.8 784.3 L1211.8 786.9 L1220.8 797.9 L1229.8 808.6 L1238.8 817.5 L1247.8 823.1 L1256.8 827.6 L1265.8 827.2 L1274.8 826.1 L1283.8 822.1 L1292.8 815 L1301.8 808 L1310.8 799.9 L1319.8 792.8 L1328.8 788.8 L1337.8 785.7 L1346.8 782.7 L1355.8 780.7 L1364.8 780.7 L1373.8 780.7 L1382.8 783.7 L1391.8 789.8 L1400.8 789.8 L1409.8 786.7 L1418.8 782.7 L1427.8 779.7 L1436.8 779.7" stroke="#e6e600" stroke-width="1.25" fill="none" stroke-linejoin="round"/>
<path d="M5.8 793.8 L14.8 782.7 L23.8 777.7 L32.8 820.1 L41.8 806.9 L50.8 791.8 L59.8 822.1 L68.8 842.3 L77.8 826.1 L86.8 812 L95.8 825.1 L104.8 843.3 L113.8 870.6 L122.8 875.2 L131.8 813 L140.8 766.5 L149.8 748.4 L158.8 741.9 L167.8 743.3 L176.8 749.4 L185.8 746.7 L194.8 755.4 L203.8 761.5 L212.8 776.2 L221.8 762.1 L230.8 758.5 L239.8 768.6 L248.8 785.7 L257.8 788.8 L266.8 777.7 L275.8 774.6 L284.8 762.5 L293.8 758.5 L302.8 764.9 L311.8 787.2 L320.8 770.6 L329.8 765.5 L338.8 791.8 L347.8 834.2 L356.8 855.8 L365.8 844.3 L374.8 836.2 L383.8 840.9 L392.8 833.6 L401.8 834.2 L410.8 843.3 L419.8 870.6 L428.8 869.6 L437.8 875.2 L446.8 829.2 L455.8 774.6 L464.8 759.5 L473.8 746.3 L482.8 741.9 L491.8 764.5 L500.8 776.6 L509.8 791.8 L518.8 818.1 L527.8 853.4 L536.8 885.7 L545.8 861.5 L554.8 837.3 L563.8 829.2 L572.8 805.9 L581.8 801.3 L590.8 809.4 L599.8 777.7 L608.8 811 L617.8 841.3 L626.8 868.6 L635.8 873.6 L644.8 883.3 L653.8 878.7 L662.8 878.7 L671.8 881.7 L680.8 858.5 L689.8 855.8 L698.8 855.4 L707.8 838.3 L716.8 797.9 L725.8 822.1 L734.8 838.3 L743.8 820.1 L752.8 816.6 L761.8 851.4 L770.8 867.6 L779.8 833.2 L788.8 802.9 L797.8 794.4 L806.8 785.7 L815.8 783.7 L824.8 800.9 L833.8 827.2 L842.8 849.4 L851.8 872.6 L860.8 867.2 L869.8 811 L878.8 789.8 L887.8 775.6 L896.8 793.8 L905.8 814 L914.8 809 L923.8 801.9 L932.8 775.6 L941.8 762.9 L950.8 766.9 L959.8 784.3 L968.8 789.8 L977.8 773 L986.8 777.7 L995.8 761.5 L1004.8 758.9 L1013.8 780.7 L1022.8 804.5 L1031.8 803.9 L1040.8 843.3 L1049.8 856.4 L1058.8 867.6 L1067.8 868 L1076.8 862.5 L1085.8 819.1 L1094.8 787.2 L1103.8 772.2 L1112.8 799.9 L1121.8 794.8 L1130.8 826.1 L1139.8 817.1 L1148.8 783.6 L1157.8 760.6 L1166.8 756.2 L1175.8 748.9 L1184.8 760.2 L1193.8 778 L1202.8 784 L1211.8 805.5 L1220.8 864.5 L1229.8 868.6 L1238.8 874 L1247.8 855.8 L1256.8 857.5 L1265.8 824.7 L1274.8 822.1 L1283.8 803.9 L1292.8 773.6 L1301.8 764.1 L1310.8 748 L1319.8 754 L1328.8 760.5 L1337.8 764.1 L1346.8 764.5 L1355.8 776.6 L1364.8 773 L1373.8 779.7 L1382.8 797.9 L1391.8 828.2 L1400.8 791.8 L1409.8 767.6 L1418.8 756.8 L1427.8 764.9 L1436.8 769.6" stroke="#ff00ff" stroke-width="1.25" fill="none" stroke-linejoin="round"/>
<path d="M133.5 501L141.2 510H136.6V517H130.4V510H125.8ZM447.4 175.6L455.1 184.8H450.5V192H444.3V184.8H439.7ZM681.5 312L689.2 321.1H684.6V328.3H678.4V321.1H673.8ZM780.5 327.3L788.2 336.5H783.6V343.8H777.4V336.5H772.8ZM843 323.6L850.7 333H846.1V340.4H839.9V333H835.3ZM870.4 339L878.1 348.3H873.5V355.6H867.3V348.3H862.7ZM1248.6 274.4L1256.3 283.1H1251.7V290H1245.5V283.1H1240.9Z" fill="#ff0000"/>
<path d="M60.5 460.8L67.2 454.9V453.3H62.4V446.7H58.6V453.3H53.8V454.9ZM312.6 95.3L319.3 89.2V87.6H314.5V80.7H310.7V87.6H305.9V89.2ZM339.5 53.6L346.2 47.8V46.2H341.4V39.7H337.6V46.2H332.8V47.8ZM960.4 264.3L967.1 258.6V257H962.3V250.5H958.5V257H953.7V258.6ZM987.7 255.8L994.4 249.6V248H989.6V241H985.8V248H981V249.6ZM1014.5 219.8L1021.2 214.5V212.9H1016.4V206.7H1012.6V212.9H1007.8V214.5ZM1203.5 210.9L1210.2 204.7V203.1H1205.4V196.2H1201.6V203.1H1196.8V204.7ZM1347.6 173.3L1354.3 167.3V165.7H1349.5V159H1345.7V165.7H1340.9V167.3Z" fill="none" stroke="#00e000" stroke-width="1.5"/>
<path d="M1401.2 133.3L1408.6 124.6H1405V117.2H1397.4V124.6H1393.8Z" fill="#00ff00"/>
<path d="M198.8 13.2L206.5 22.7H201.9V30.2H195.7V22.7H191.1Z" fill="#ff0000"/>
<g fill="#f4f4f4" font-family="'Liberation Sans','Noto Sans CJK SC',sans-serif" font-size="18"><title>创业板指(日线.前复权)</title>
<text x="3.3" y="29.5" textLength="72" lengthAdjust="spacingAndGlyphs">创业板指</text>
<text x="80.6" y="29.5" textLength="35.5" lengthAdjust="spacingAndGlyphs">日线</text>
<text x="122" y="29.5" textLength="53.5" lengthAdjust="spacingAndGlyphs">前复权</text>
</g>
<text x="75.8" y="28.5" fill="#e8e8e8" textLength="5.4" lengthAdjust="spacingAndGlyphs">(</text>
<text x="117.3" y="27.5" fill="#e8e8e8">.</text>
<text x="176" y="28.5" fill="#e8e8e8" textLength="5.4" lengthAdjust="spacingAndGlyphs">)</text>
<text x="210.5" y="28.7" fill="#dedede" textLength="58.5" lengthAdjust="spacingAndGlyphs">EXPMA</text>
<text x="269.5" y="28.7" fill="#dedede" textLength="57" lengthAdjust="spacingAndGlyphs">(12,50)</text>
<text x="335" y="28.7" fill="#dedede" textLength="49.6" lengthAdjust="spacingAndGlyphs">EXP1:</text>
<text x="388.5" y="28.7" fill="#dedede" textLength="67.5" lengthAdjust="spacingAndGlyphs">1644.18</text>
<text x="463.9" y="28.7" fill="#eaea00" textLength="49.6" lengthAdjust="spacingAndGlyphs">EXP2:</text>
<text x="519.5" y="28.7" fill="#eaea00" textLength="65" lengthAdjust="spacingAndGlyphs">1581.57</text>
<text x="511.5" y="53.5" fill="#dedede" textLength="68.1" lengthAdjust="spacingAndGlyphs">1792.03</text>
<text x="142" y="517.6" fill="#dedede" textLength="67" lengthAdjust="spacingAndGlyphs">1220.95</text>
<text x="1423" y="160.9" fill="#dedede" textLength="43.1" lengthAdjust="spacingAndGlyphs">1669.</text>
<text x="2" y="554.9" fill="#dedede" textLength="81" lengthAdjust="spacingAndGlyphs">VOLUME:</text>
<text x="85.5" y="554.9" fill="#dedede" textLength="108" lengthAdjust="spacingAndGlyphs">94286864.00</text>
<text x="201.9" y="554.9" fill="#dedede" textLength="39.1" lengthAdjust="spacingAndGlyphs">MA5:</text>
<text x="245.5" y="554.9" fill="#dedede" textLength="107.5" lengthAdjust="spacingAndGlyphs">94783696.00</text>
<text x="361.5" y="554.9" fill="#eaea00" textLength="50.6" lengthAdjust="spacingAndGlyphs">MA10:</text>
<text x="416.5" y="554.9" fill="#eaea00" textLength="108" lengthAdjust="spacingAndGlyphs">86388736.00</text>
<text x="2" y="730.9" fill="#dedede" textLength="34.1" lengthAdjust="spacingAndGlyphs">KDJ</text>
<text x="37" y="730.9" fill="#dedede" textLength="51.5" lengthAdjust="spacingAndGlyphs">(9,3,3)</text>
<text x="96.9" y="730.9" fill="#dedede" textLength="15.7" lengthAdjust="spacingAndGlyphs">K:</text>
<text x="118" y="730.9" fill="#dedede" textLength="43" lengthAdjust="spacingAndGlyphs">85.71</text>
<text x="171.3" y="730.9" fill="#eaea00" textLength="19.6" lengthAdjust="spacingAndGlyphs">D:</text>
<text x="195" y="730.9" fill="#eaea00" textLength="45" lengthAdjust="spacingAndGlyphs">83.30</text>
<text x="247" y="730.9" fill="#ee00ee" textLength="14.1" lengthAdjust="spacingAndGlyphs">J:</text>
<text x="267" y="730.9" fill="#ee00ee" textLength="44.5" lengthAdjust="spacingAndGlyphs">90.52</text>
<path d="M509 46.4 L492.3 42.7 Q492.3 38 497.3 38.2" stroke="#e0e0e0" stroke-width="1.3" fill="none"/>
<path d="M123 509 H140 M123 509 L127.5 513.5" stroke="#ffffff" stroke-width="1.5" fill="none"/>
<line x1="1419.5" y1="138" x2="1467" y2="138" stroke="#c0c0c0" stroke-width="2.2"/>
</svg>
</body></html>
